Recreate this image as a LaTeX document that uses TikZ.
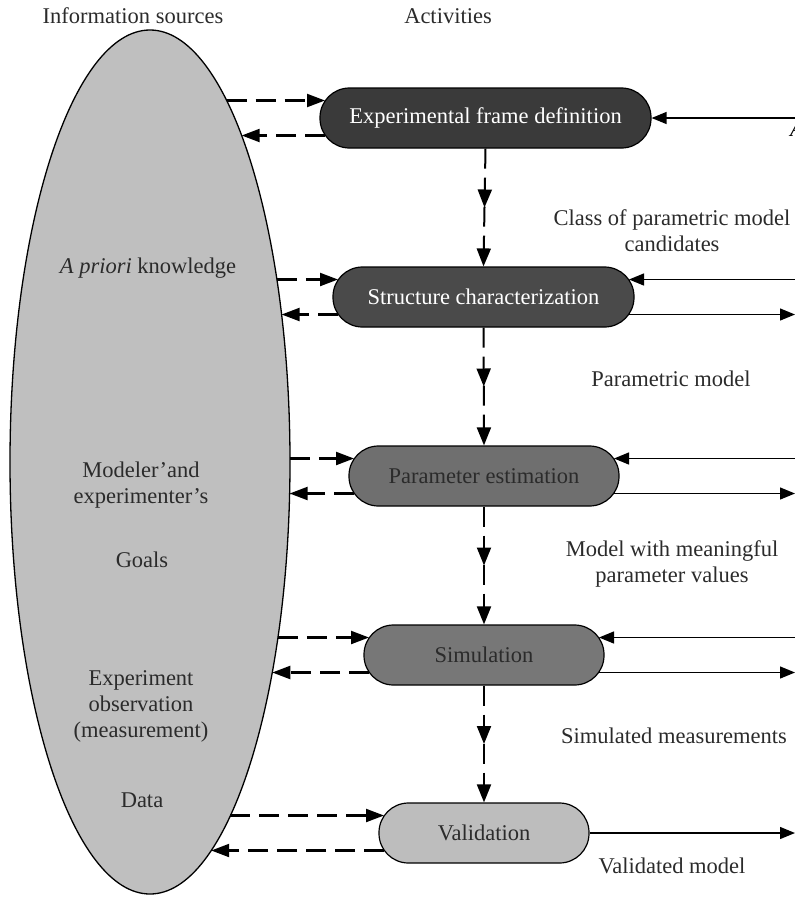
\documentclass[tikz,border=0pt]{standalone}
\usepackage{fontspec}
\setmainfont{Liberation Serif}
\usetikzlibrary{arrows.meta,calc,decorations.markings,shapes.geometric}

\definecolor{inkgray}{HTML}{2B2B2B}
\definecolor{srcfill}{HTML}{BFBFBF}
\definecolor{actA}{HTML}{3A3A3A}
\definecolor{actB}{HTML}{4A4A4A}
\definecolor{actC}{HTML}{6F6F6F}
\definecolor{actD}{HTML}{777777}
\definecolor{actE}{HTML}{BDBDBD}

% point on the right-hand rim of the source ellipse at a given depth
\newcommand\rimpoint[2]{\coordinate (#1) at ({150+140*sqrt(1-((#2-462)/432)^2)},#2);}

\begin{document}
\begin{tikzpicture}[x=1pt,y=-1pt,
  txt/.style={font=\fontsize{22.5}{26}\selectfont, text=inkgray, inner sep=0pt},
  activity/.style={draw=black, line width=1.2pt, rounded corners=29.5pt,
    minimum height=60pt, inner sep=0pt, font=\fontsize{22.5}{26}\selectfont},
  feed/.style={line width=2.2pt, dash pattern=on 20pt off 9pt,
    -{Triangle[length=18pt,width=13pt]}},
  flow/.style={line width=2pt, dash pattern=on 20pt off 9pt,
    -{Triangle[length=18pt,width=14pt]}, postaction={decorate},
    decoration={markings, mark=at position 0.5 with {\arrow{Triangle[length=18pt,width=14pt]}}}},
  link/.style={line width=1.3pt, -{Triangle[length=15pt,width=12pt]}},
]
\useasboundingbox (0,0) rectangle (795,914);

% headings
\node[txt, anchor=base] (hdrsrc) at (133,23) {Information sources};
\node[txt, anchor=base] (hdract) at (448,23) {Activities};

% information sources
\node[ellipse, draw=black, line width=1.3pt, fill=srcfill, inner sep=0pt,
  minimum width=280pt, minimum height=864pt] (src) at (150,462) {};
\node[txt, anchor=base] (apriori) at (148,273) {\textit{A priori} knowledge};
\node[txt, anchor=north, align=center] (goals) at (141,461.6) {Modeler'and\\experimenter's};
\node[txt, anchor=base] (goalsb) at (142,567) {Goals};
\node[txt, anchor=north, align=center] (obs) at (141,670.6) {Experiment\\observation\\(measurement)};
\node[txt, anchor=base] (data) at (142,807) {Data};

% activities
\node[activity, fill=actA, text=white, minimum width=331pt] (def) at (485.5,118) {Experimental frame definition};
\node[activity, fill=actB, text=white, minimum width=301pt] (str) at (483.5,297) {Structure characterization};
\node[activity, fill=actC, text=inkgray, minimum width=270pt] (est) at (484,476) {Parameter estimation};
\node[activity, fill=actD, text=inkgray, minimum width=240pt] (sim) at (484,655) {Simulation};
\node[activity, fill=actE, text=inkgray, minimum width=210pt] (val) at (484,833) {Validation};

% products of each activity
\node[txt, anchor=north, align=center] (prodA) at (672,209) {Class of parametric model\\candidates};
\node[txt, anchor=base] (prodB) at (671,386) {Parametric model};
\node[txt, anchor=north, align=center] (prodC) at (672,540) {Model with meaningful\\parameter values};
\node[txt, anchor=base] (prodD) at (674,743) {Simulated measurements};
\node[txt, anchor=base] (prodE) at (672,873) {Validated model};
\node[txt, anchor=base west, text=black] (edgeA) at (790,136) {\textit{A}};

% main sequence
\draw[flow] (def.south) -- (str.north);
\draw[flow] (str.south) -- (est.north);
\draw[flow] (est.south) -- (sim.north);
\draw[flow] (sim.south) -- (val.north);

% exchanges with the information sources
\foreach \n/\c in {def/118,str/297,est/476,sim/655,val/833}{
  \pgfmathsetmacro\up{\c-17.5}
  \pgfmathsetmacro\dn{\c+17.5}
  \rimpoint{\n-rimup}{\up}
  \rimpoint{\n-rimdn}{\dn}
  \coordinate (\n-inl) at ($(\n.west)+(5.6,-17.5)$);
  \coordinate (\n-outl) at ($(\n.west)+(5.6,17.5)$);
  \draw[feed] (\n-rimup) -- (\n-inl);
  \draw[feed] (\n-outl) -- (\n-rimdn);
}

% links to the right
\coordinate (def-far) at (795,118);
\draw[link] (def-far) -- (def.east);
\foreach \n/\c in {str/297,est/476,sim/655}{
  \coordinate (\n-farup) at (795,\c-17.5);
  \coordinate (\n-fardn) at (795,\c+17.5);
  \coordinate (\n-inr) at ($(\n.east)+(-5.6,-17.5)$);
  \coordinate (\n-outr) at ($(\n.east)+(-5.6,17.5)$);
  \draw[link] (\n-farup) -- (\n-inr);
  \draw[link] (\n-outr) -- (\n-fardn);
}
\coordinate (val-far) at (795,833);
\draw[link] (val.east) -- (val-far);
\end{tikzpicture}
\end{document}
